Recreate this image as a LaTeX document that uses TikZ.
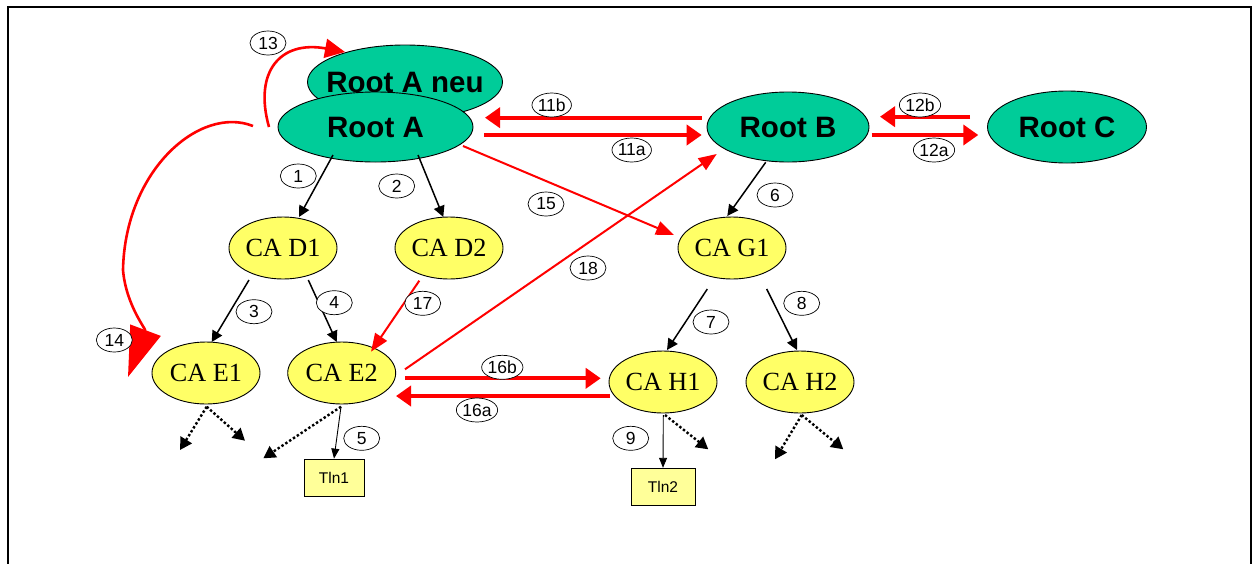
\documentclass[tikz,border=0pt]{standalone}
\usepackage{fontspec}
\setmainfont{Liberation Serif}
\setsansfont{Liberation Sans}
\usetikzlibrary{arrows.meta,shapes.geometric,calc}

\definecolor{rootgreen}{RGB}{0,204,153}
\definecolor{cayellow}{RGB}{255,255,102}
\definecolor{tlnyellow}{RGB}{255,255,153}

\tikzset{
  root/.style={ellipse, draw=black, line width=0.9pt, fill=rootgreen, inner sep=0pt,
    minimum height=70pt, font=\sffamily\bfseries\fontsize{29.5}{30}\selectfont},
  ca/.style={ellipse, draw=black, line width=0.9pt, fill=cayellow, inner sep=0pt,
    minimum width=108pt, minimum height=62pt, font=\rmfamily\fontsize{26.2}{27}\selectfont},
  tln/.style={rectangle, draw=black, line width=0.8pt, fill=tlnyellow, inner sep=0pt,
    minimum width=60pt, minimum height=37pt, font=\sffamily\fontsize{15.5}{16}\selectfont},
  num/.style={ellipse, draw=black, line width=0.7pt, fill=white, inner sep=0pt,
    minimum width=36pt, minimum height=24pt, font=\sffamily\fontsize{17.5}{18}\selectfont},
  blk/.style={draw=black, line width=1.5pt, -{Triangle[length=11pt,width=11pt]}},
  fine/.style={draw=black, line width=0.9pt, -{Triangle[length=10pt,width=8pt]}},
  dots/.style={draw=black, line width=2.4pt, dash pattern=on 2.4pt off 2.2pt,
    -{Triangle[length=12pt,width=13pt]}},
  redthick/.style={draw=red, line width=3.7pt, -{Triangle[length=15pt,width=20pt]}},
  redthin/.style={draw=red, line width=2pt, -{Triangle[length=18pt,width=14pt]}},
  redcurve/.style={draw=red, line width=2.6pt},
}

\newcommand{\zb}[1]{\makebox[0pt][c]{#1}}

\begin{document}
\begin{tikzpicture}[x=1pt,y=-1pt]
\useasboundingbox (0,0) rectangle (1252,563);

% open frame
\draw[line width=2pt] (7.8,575) -- (7.8,7) -- (1250.5,7) -- (1250.5,575);

% root certificates
\node[root, minimum width=195pt, minimum height=74pt] (rootAneu) at (405,82) {\zb{Root A neu}};
\node[root, minimum width=195pt] (rootA) at (375.5,127) {\zb{Root A}};
\node[root, minimum width=162pt] (rootB) at (788,127) {\zb{Root B}};
\node[root, minimum width=159pt, minimum height=72pt] (rootC) at (1067,127) {\zb{Root C}};

% sub CAs
\node[ca] (d1) at (283,248) {\zb{CA D1}};
\node[ca] (d2) at (449,248) {\zb{CA D2}};
\node[ca] (e1) at (206,373) {\zb{CA E1}};
\node[ca] (e2) at (341.7,373) {\zb{CA E2}};
\node[ca] (g1) at (732,248) {\zb{CA G1}};
\node[ca] (h1) at (663,382) {\zb{CA H1}};
\node[ca] (h2) at (800,382) {\zb{CA H2}};

% participants
\node[tln] (tln1) at (334,477.5) {Tln1};
\node[tln, minimum width=64pt] (tln2) at (663,486.7) {Tln2};

% loose ends of the dotted branches
\coordinate (x1) at (180,450);
\coordinate (x2) at (245,440.7);
\coordinate (x3) at (263.3,458.3);
\coordinate (x4) at (708.3,449.3);
\coordinate (x5) at (775,459.3);
\coordinate (x6) at (843.3,449.3);

% hierarchy
\draw[blk] ($(rootA)+(-42.5,28)$) -- ($(d1)+(16,-31)$);
\draw[blk] ($(rootA)+(42.5,28)$) -- ($(d2)+(-5.7,-31)$);
\draw[blk] ($(d1)+(-34,32)$) -- ($(e1)+(5.7,-31)$);
\draw[blk] ($(d1)+(25.3,32)$) -- ($(e2)+(-5,-31)$);
\draw[blk] ($(rootB)+(-22.3,35.3)$) -- ($(g1)+(-4.7,-32)$);
\draw[blk] ($(g1)+(-24.7,41)$) -- ($(h1)+(4,-32)$);
\draw[blk] ($(g1)+(34.7,41)$) -- ($(h2)+(-3,-32)$);
\draw[fine] ($(e2)+(-0.7,33.7)$) -- (tln1.north);
\draw[fine] ($(h1)+(0.3,33)$) -- (tln2.north);

% further branches
\draw[dots] ($(e1)+(0.7,33.7)$) -- (x1);
\draw[dots] ($(e1)+(0.7,33.7)$) -- (x2);
\draw[dots] ($(e2)+(-0.7,33.7)$) -- (x3);
\draw[dots] ($(h1)+(2,33)$) -- (x4);
\draw[dots] ($(h2)+(1.7,33)$) -- (x5);
\draw[dots] ($(h2)+(1.7,33)$) -- (x6);

% cross certification
\draw[redthick] ($(rootB)+(-86.3,-9.3)$) -- ($(rootA)+(109.5,-9.3)$);
\draw[redthick] ($(rootA)+(108.5,8)$) -- ($(rootB)+(-86.3,8)$);
\draw[redthick] ($(rootC)+(-97,-10.3)$) -- ($(rootB)+(92,-10.3)$);
\draw[redthick] ($(rootB)+(83.7,8)$) -- ($(rootC)+(-88.7,8)$);
\draw[redthick] ($(e2)+(63.3,5.3)$) -- ($(h1)+(-62.3,-3.7)$);
\draw[redthick] ($(h1)+(-53,14)$) -- ($(e2)+(54.3,23)$);
\draw[redthin] ($(rootA)+(87.5,19)$) -- ($(g1)+(-58,-13)$);
\draw[redthin] ($(e2)+(63.3,-3.7)$) -- ($(rootB)+(-71.3,27)$);
\draw[redthin] ($(d2)+(-29.7,32.7)$) -- ($(e2)+(29.3,-21.3)$);

% root key rollover
\draw[redcurve, -{Triangle[length=20pt,width=19pt]}] ($(rootA)+(-106.5,0)$)
  .. controls ($(rootA)+(-122,-55)$) and ($(rootAneu)+(-125,-42)$) .. ($(rootAneu)+(-60,-30)$);
\draw[redcurve, -{Triangle[length=50pt,width=32pt]}] ($(rootA)+(-122.5,-1)$)
  .. controls ($(rootA)+(-175.5,-22)$) and ($(rootA)+(-250.5,43)$) .. ($(e1)+(-83,-103)$)
  .. controls ($(e1)+(-80,-68)$) and ($(e1)+(-60,-44)$) .. ($(e1)+(-78,4)$);

% step numbers
\node[num] (n13) at (268,43) {13};
\node[num] (n1) at (298.3,176) {1};
\node[num] (n2) at (396.7,186) {2};
\node[num] (n3) at (254,311.7) {3};
\node[num] (n4) at (334.3,302.7) {4};
\node[num] (n17) at (422.7,303.3) {17};
\node[num] (n14) at (114.3,340) {14};
\node[num] (n5) at (361.7,438.3) {5};
\node[num] (n9) at (630.7,438.3) {9};
\node[num] (n11b) at (551.7,105) {11b};
\node[num] (n11a) at (631.7,150) {11a};
\node[num] (n12b) at (920,105) {12b};
\node[num] (n12a) at (934,150) {12a};
\node[num] (n15) at (546,204) {15};
\node[num] (n18) at (588,268) {18};
\node[num] (n6) at (775,195) {6};
\node[num] (n7) at (711,322) {7};
\node[num] (n8) at (801.7,303.3) {8};
\node[num] (n16b) at (502.3,367.3) {16b};
\node[num] (n16a) at (477,410) {16a};
\end{tikzpicture}
\end{document}
